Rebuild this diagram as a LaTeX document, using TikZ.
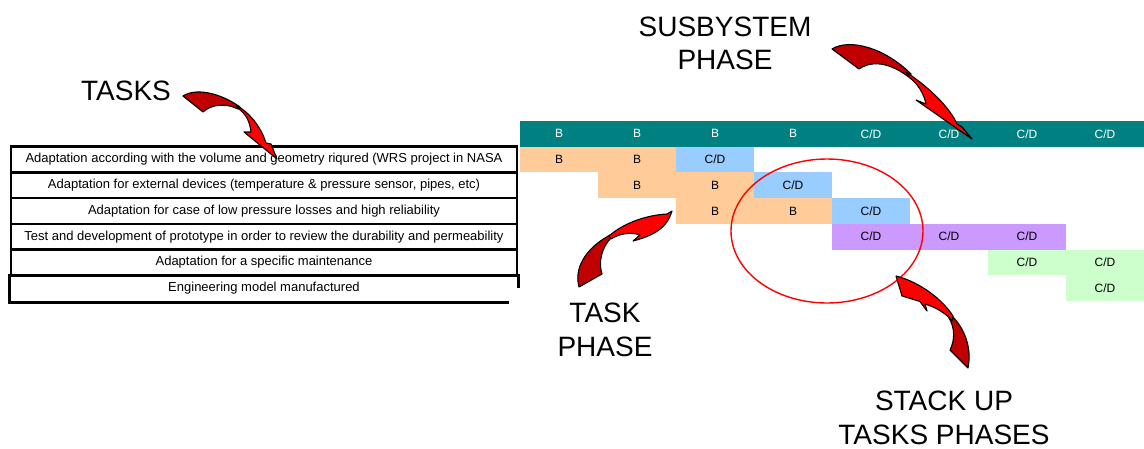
\documentclass[tikz,border=0pt]{standalone}
\usepackage{fontspec}
\setmainfont{Liberation Sans}
\usetikzlibrary{shapes.geometric,calc}
\definecolor{tealhead}{HTML}{008080}
\definecolor{phB}{HTML}{FFCC99}
\definecolor{phC}{HTML}{99CCFF}
\definecolor{phP}{HTML}{CC99FF}
\definecolor{phG}{HTML}{CCFFCC}
\definecolor{ribbondark}{HTML}{C00000}
\definecolor{ribbonlight}{HTML}{FF0000}
\begin{document}
\begin{tikzpicture}[x=1pt,y=-1pt,
  cell/.style={minimum width=78pt, minimum height=25.7pt, inner sep=0pt, outer sep=0pt,
    font=\fontsize{12}{14}\selectfont, anchor=center},
  headcell/.style={cell, fill=tealhead, text=white},
  cellB/.style={cell, fill=phB},
  cellC/.style={cell, fill=phC},
  cellP/.style={cell, fill=phP},
  cellG/.style={cell, fill=phG},
  taskbox/.style={draw=black, line width=2.6pt, minimum width=506pt, minimum height=25.7pt,
    inner sep=0pt, font=\fontsize{13}{15}\selectfont},
  tblline/.style={draw=black, line width=2.6pt},
  biglabel/.style={font=\fontsize{28}{33.3}\selectfont, align=center, inner sep=0pt},
  ribdark/.style={fill=ribbondark, draw=black, line width=1.1pt, line join=round},
  riblight/.style={fill=ribbonlight, draw=black, line width=1.1pt, line join=round},
  ring/.style={draw=red, line width=1.4pt, ellipse, minimum width=192pt, minimum height=144pt, inner sep=0pt}
]
\useasboundingbox (0,0) rectangle (1144,448);
\fill[white] (0,0) rectangle (1144,448);

% header row (subsystem phases)
\foreach \i/\t in {1/B,2/B,3/B,4/B,5/C\slash D,6/C\slash D,7/C\slash D,8/C\slash D}{
  \node[headcell] (h\i) at ({520+78*(\i-0.5)},133.85) {\t};
}

% task phase cells
\node[cellB] (r1c1) at (559,159.55) {B};
\node[cellB] (r1c2) at (637,159.55) {B};
\node[cellC] (r1c3) at (715,159.55) {C/D};
\node[cellB] (r2c2) at (637,185.25) {B};
\node[cellB] (r2c3) at (715,185.25) {B};
\node[cellC] (r2c4) at (793,185.25) {C/D};
\node[cellB] (r3c3) at (715,210.95) {B};
\node[cellB] (r3c4) at (793,210.95) {B};
\node[cellC] (r3c5) at (871,210.95) {C/D};
\node[cellP] (r4c5) at (871,236.65) {C/D};
\node[cellP] (r4c6) at (949,236.65) {C/D};
\node[cellP] (r4c7) at (1027,236.65) {C/D};
\node[cellG] (r5c7) at (1027,262.35) {C/D};
\node[cellG] (r5c8) at (1105,262.35) {C/D};
\node[cellG] (r6c8) at (1105,288.05) {C/D};

% task list
\node[taskbox] (t1) at (264,159.55) {Adaptation according with the volume and geometry riqured (WRS project in NASA};
\node[taskbox] (t2) at (264,185.25) {Adaptation for external devices (temperature \& pressure sensor, pipes, etc)};
\node[taskbox] (t3) at (264,210.95) {Adaptation for case of low pressure losses and high reliability};
\node[taskbox] (t4) at (264,236.65) {Test and development of prototype in order to review the durability and permeability};
\node[taskbox] (t5) at (264,262.35) {Adaptation for a specific maintenance};
\node[taskbox, draw=none] (t6) at (264,288.05) {Engineering model manufactured};
\draw[tblline] (t6.north west) -- (t6.south west) -- ($(t6.south east)+(-9,0)$);
\draw[tblline] (t6.north east) -- ++(0,14);

% stack-up ellipse
\node[ring] (stack) at (827,231) {};

% labels
\node[biglabel] (lbltasks) at (126,91) {TASKS};
\node[biglabel] (lblsub) at (725,43.3) {SUSBYSTEM\\PHASE};
\node[biglabel] (lbltask) at (605,330) {TASK\\PHASE};
\node[biglabel] (lblstack) at (944,418) {STACK UP\\TASKS PHASES};

% curved ribbon arrows
% TASKS arrow
\draw[ribdark] (183,96) .. controls (197,87) and (222,94) .. (240,107) -- (238,109)
  .. controls (226,103) and (212,104) .. (203,112) -- cycle;
\draw[riblight] (236,105) .. controls (252,114) and (262,130) .. (266,143) -- (271,144) -- (277,159)
  -- (244,132) -- (251,132) .. controls (250,122) and (246,114) .. (239,109) -- cycle;
% SUSBYSTEM arrow
\draw[ribdark] (832,49) .. controls (850,38) and (885,48) .. (911,74) -- (910,78)
  .. controls (895,66) and (875,58) .. (859,69) -- cycle;
\draw[riblight] (906,72) .. controls (930,88) and (950,108) .. (957,124) -- (962,127) -- (972,139)
  -- (916,100) -- (926,104) .. controls (924,94) and (918,84) .. (910,78) -- cycle;
% TASK PHASE arrow
\draw[ribdark] (579,287) .. controls (573,265) and (590,245) .. (612,234) -- (611,238)
  .. controls (602,247) and (598,262) .. (602,274) -- cycle;
\draw[riblight] (609,236) .. controls (625,222) and (648,215) .. (667,214) -- (672,211)
  .. controls (668,224) and (660,234) .. (633,241) -- (640,235)
  .. controls (632,232) and (620,233) .. (611,239) -- cycle;
% STACK UP arrow
\draw[ribdark] (950,314) .. controls (965,328) and (972,348) .. (968,368) -- (950,350)
  .. controls (955,340) and (955,328) .. (949,318) -- cycle;
\draw[riblight] (896,276) -- (902,296) -- (920,301.5) -- (927,311) -- (925,304)
  .. controls (935,307) and (946,313) .. (952,321) -- (953,316)
  .. controls (943,300) and (920,282) .. (896,276) -- cycle;
\end{tikzpicture}
\end{document}
